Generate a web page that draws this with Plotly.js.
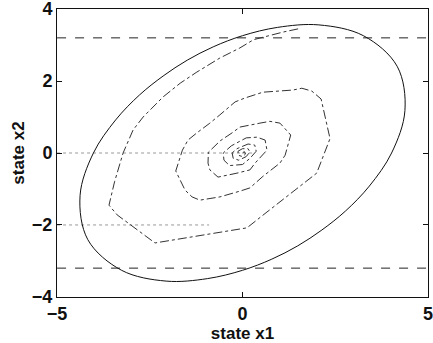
<!DOCTYPE html>
<html>
<head>
<meta charset="utf-8">
<script src="https://cdn.plot.ly/plotly-3.0.1.min.js"></script>
<style>html,body{margin:0;padding:0;background:#fff}#chart{width:433px;height:343px}</style>
</head>
<body>
<div id="chart"></div>
<script>
// Ellipse (solid boundary)
const ellipseX = [4.02, 4.38, 4.17, 3.26, 2.06, 0.94, 0.00, -0.79, -1.49, -2.14, -2.78, -3.42, -4.02, -4.38, -4.17, -3.26, -2.06, -0.94, 0.00, 0.79, 1.49, 2.14, 2.78, 3.42, 4.02];
const ellipseY = [0.00, 1.18, 2.41, 3.26, 3.56, 3.49, 3.26, 2.95, 2.58, 2.14, 1.61, 0.92, 0.00, -1.18, -2.41, -3.26, -3.56, -3.49, -3.26, -2.95, -2.58, -2.14, -1.61, -0.92, 0.00];

// Spiral state trajectory (dash-dot)
const trajX = [1.50, 1.09, 0.30, -0.07, -0.61, -1.23, -1.68, -2.14, -2.68, -2.95, -3.22, -3.45, -3.60, -3.38, -2.36, 0.12, 0.66, 1.36, 2.00, 2.36, 2.12, 1.87, 1.60, 1.36, 0.55, 0.07, -0.20, -0.61, -0.88, -1.23, -1.47, -1.62, -1.80, -1.55, -1.36, -1.15, -0.61, -0.07, 0.20, 0.55, 1.01, 1.15, 1.30, 1.01, 0.74, 0.47, -0.07, -0.28, -0.60, -0.92, -0.93, -0.88, -0.66, -0.15, 0.20, 0.34, 0.66, 0.61, 0.39, 0.10, -0.30, -0.52, -0.50, -0.35, 0.00, 0.20, 0.37, 0.33, 0.15, -0.15, -0.28, -0.25, -0.10, 0.10, 0.20, 0.15, 0.00, -0.12, -0.12, 0.00, 0.08, 0.05, 0.00];
const trajY = [3.45, 3.36, 3.15, 2.92, 2.64, 2.25, 1.94, 1.56, 1.00, 0.64, 0.00, -0.80, -1.45, -1.72, -2.50, -2.08, -1.64, -1.08, -0.56, 0.40, 1.50, 1.72, 1.80, 1.75, 1.69, 1.53, 1.42, 1.06, 0.83, 0.56, 0.36, 0.08, -0.50, -1.03, -1.22, -1.31, -1.22, -1.06, -0.97, -0.65, -0.28, -0.06, 0.50, 0.83, 0.88, 0.83, 0.72, 0.56, 0.34, 0.02, -0.28, -0.47, -0.67, -0.56, -0.47, -0.28, 0.08, 0.36, 0.44, 0.42, 0.20, 0.00, -0.20, -0.35, -0.32, -0.15, 0.05, 0.22, 0.25, 0.12, 0.00, -0.15, -0.20, -0.10, 0.03, 0.12, 0.12, 0.05, -0.06, -0.10, -0.03, 0.04, 0.00];

// State constraint lines (dashed)
const boundX = [-5, 5];
const upperY = [3.2, 3.2];
const lowerY = [-3.2, -3.2];

// Faint dotted reference lines
const dot0X = [-5, 0.3];
const dot0Y = [0, 0];
const dot2X = [-5, -0.9];
const dot2Y = [-2, -2];

// Axis ticks
const xTicks = [-5, 0, 5];
const yTicks = [-4, -2, 0, 2, 4];

const traces = [
  {x: dot0X, y: dot0Y, mode: 'lines', line: {color: '#999', width: 1, dash: 'dot'}, hoverinfo: 'skip'},
  {x: dot2X, y: dot2Y, mode: 'lines', line: {color: '#999', width: 1, dash: 'dot'}, hoverinfo: 'skip'},
  {x: boundX, y: upperY, mode: 'lines', line: {color: '#222', width: 1, dash: 'dash'}},
  {x: boundX, y: lowerY, mode: 'lines', line: {color: '#222', width: 1, dash: 'dash'}},
  {x: ellipseX, y: ellipseY, mode: 'lines', line: {color: '#111', width: 1, shape: 'spline', smoothing: 1}},
  {x: trajX, y: trajY, mode: 'lines', line: {color: '#333', width: 1, dash: 'dashdot'}}
];

const axisFont = {family: 'Liberation Sans, Arial, sans-serif', size: 18, color: '#111', weight: 'bold'};
const titleFont = {family: 'Liberation Sans, Arial, sans-serif', size: 17, color: '#111', weight: 'bold'};
const layout = {
  width: 433, height: 343,
  margin: {l: 57, r: 5, t: 9, b: 46},
  paper_bgcolor: '#fff', plot_bgcolor: '#fff',
  showlegend: false,
  xaxis: {
    range: [-5.002, 5.002], tickvals: xTicks, ticks: 'inside', ticklen: 5, tickcolor: '#111',
    showline: true, linecolor: '#111', linewidth: 1, mirror: 'ticks', showgrid: false, zeroline: false,
    tickfont: axisFont, automargin: false, ticklabeloverflow: 'allow',
    title: {text: 'state x1', font: titleFont, standoff: 0}
  },
  yaxis: {
    range: [-4.002, 4.002], tickvals: yTicks, ticks: 'inside', ticklen: 5, tickcolor: '#111',
    showline: true, linecolor: '#111', linewidth: 1, mirror: 'ticks', showgrid: false, zeroline: false,
    tickfont: axisFont, automargin: false, ticklabeloverflow: 'allow',
    title: {text: 'state x2', font: titleFont, standoff: 2}
  }
};

Plotly.newPlot('chart', traces, layout, {staticPlot: true, displayModeBar: false});
</script>
</body>
</html>
